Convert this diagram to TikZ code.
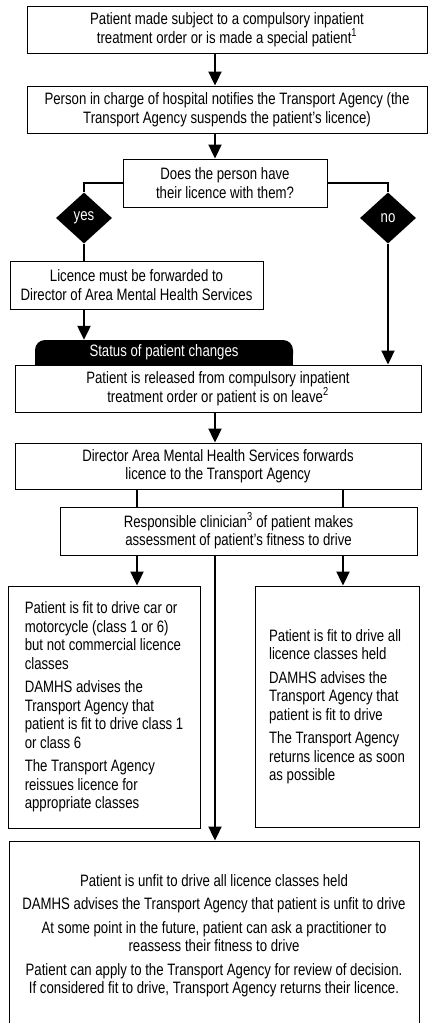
\documentclass[tikz,border=0pt]{standalone}
\usepackage{fontspec}
\setmainfont{Liberation Sans}[FakeStretch=0.8]
\usetikzlibrary{arrows.meta,shapes.geometric}
\begin{document}
\begin{tikzpicture}[x=1pt, y=-1pt,
  font=\fontsize{16.5}{18.5}\selectfont,
  box/.style={draw, line width=1pt, inner sep=0pt, align=center},
  fork/.style={diamond, fill=black, text=white, inner sep=0pt, minimum width=56pt, minimum height=51pt},
  tab/.style={fill=black, rounded corners=10pt, inner sep=0pt, minimum width=258pt, minimum height=25pt},
  link/.style={line width=2.3pt},
  arr/.style={link, -{Triangle[length=14pt, width=13pt]}}]
	\useasboundingbox (0,0) rectangle (428,1023);
	
	% Hjelpelinjer for pilene
	\coordinate (spine) at (215,0);
	\coordinate (lcol) at (137,0);
	\coordinate (rcol) at (343,0);
	
	% Innleggelse
	\node[box, minimum width=400pt, minimum height=47pt] (order) at (227,29.5) {Patient made subject to a compulsory inpatient\\treatment order or is made a special patient\textsuperscript{1}};
	\node[box, minimum width=400pt, minimum height=47pt] (notify) at (227,109.5) {Person in charge of hospital notifies the Transport Agency (the\\Transport Agency suspends the patient's licence)};
	
	% Har pasienten sertifikatet?
	\node[box, minimum width=204pt, minimum height=48pt] (ask) at (225,183) {Does the person have\\their licence with them?};
	\node[fork] (yes) at (84,218) {yes};
	\node[fork] (no) at (388,218) {no};
	\node[box, minimum width=253pt, minimum height=48pt] (forward) at (136.5,285) {Licence must be forwarded to\\Director of Area Mental Health Services};
	
	% Endret status
	\node[tab] (status) at (164,352.5) {};
	\fill (status.west) rectangle (status.south east);
	\node[text=white] (statustext) at (status.center) {Status of patient changes};
	\node[box, minimum width=406pt, minimum height=47pt] (release) at (218,388.5) {Patient is released from compulsory inpatient\\treatment order or patient is on leave\textsuperscript{2}};
	\node[box, minimum width=406pt, minimum height=46pt] (director) at (218,466) {Director Area Mental Health Services forwards\\licence to the Transport Agency};
	\node[box, minimum width=357pt, minimum height=48pt] (assess) at (238.5,531) {Responsible clinician\textsuperscript{3} of patient makes\\assessment of patient's fitness to drive};
	
	% Utfall av vurderingen
	\node[box, align=left, minimum width=192pt, minimum height=242pt] (fitcar) at (104,707) {Patient is fit to drive car or\\motorcycle (class 1 or 6)\\but not commercial licence\\classes\\[5pt]DAMHS advises the\\Transport Agency that\\patient is fit to drive class 1\\or class 6\\[5pt]The Transport Agency\\reissues licence for\\appropriate classes};
	\node[box, align=left, minimum width=164pt, minimum height=241pt] (fitall) at (337,706.5) {Patient is fit to drive all\\licence classes held\\[5pt]DAMHS advises the\\Transport Agency that\\patient is fit to drive\\[5pt]The Transport Agency\\returns licence as soon\\as possible};
	\node[box, minimum width=410pt, minimum height=189pt] (unfit) at (214,935.5) {Patient is unfit to drive all licence classes held\\[5pt]DAMHS advises the Transport Agency that patient is unfit to drive\\[5pt]At some point in the future, patient can ask a practitioner to\\reassess their fitness to drive\\[5pt]Patient can apply to the Transport Agency for review of decision.\\If considered fit to drive, Transport Agency returns their licence.};
	
	% Piler
	\draw[arr] (order.south -| spine) -- (notify.north -| spine);
	\draw[arr] (notify.south -| spine) -- (ask.north -| spine);
	\draw[link] (ask.west) -| (yes.north);
	\draw[link] (ask.east) -| (no.north);
	\draw[link] (yes.south) -- (forward.north -| yes.south);
	\draw[arr] (forward.south -| yes.south) -- (status.north -| yes.south);
	\draw[arr] (no.south) -- (release.north -| no.south);
	\draw[arr] (release.south -| spine) -- (director.north -| spine);
	\draw[link] (director.south -| lcol) -- (assess.north -| lcol);
	\draw[link] (director.south -| rcol) -- (assess.north -| rcol);
	\draw[arr] (assess.south -| lcol) -- (fitcar.north -| lcol);
	\draw[arr] (assess.south -| rcol) -- (fitall.north -| rcol);
	\draw[arr] (assess.south -| spine) -- (unfit.north -| spine);
\end{tikzpicture}
\end{document}
